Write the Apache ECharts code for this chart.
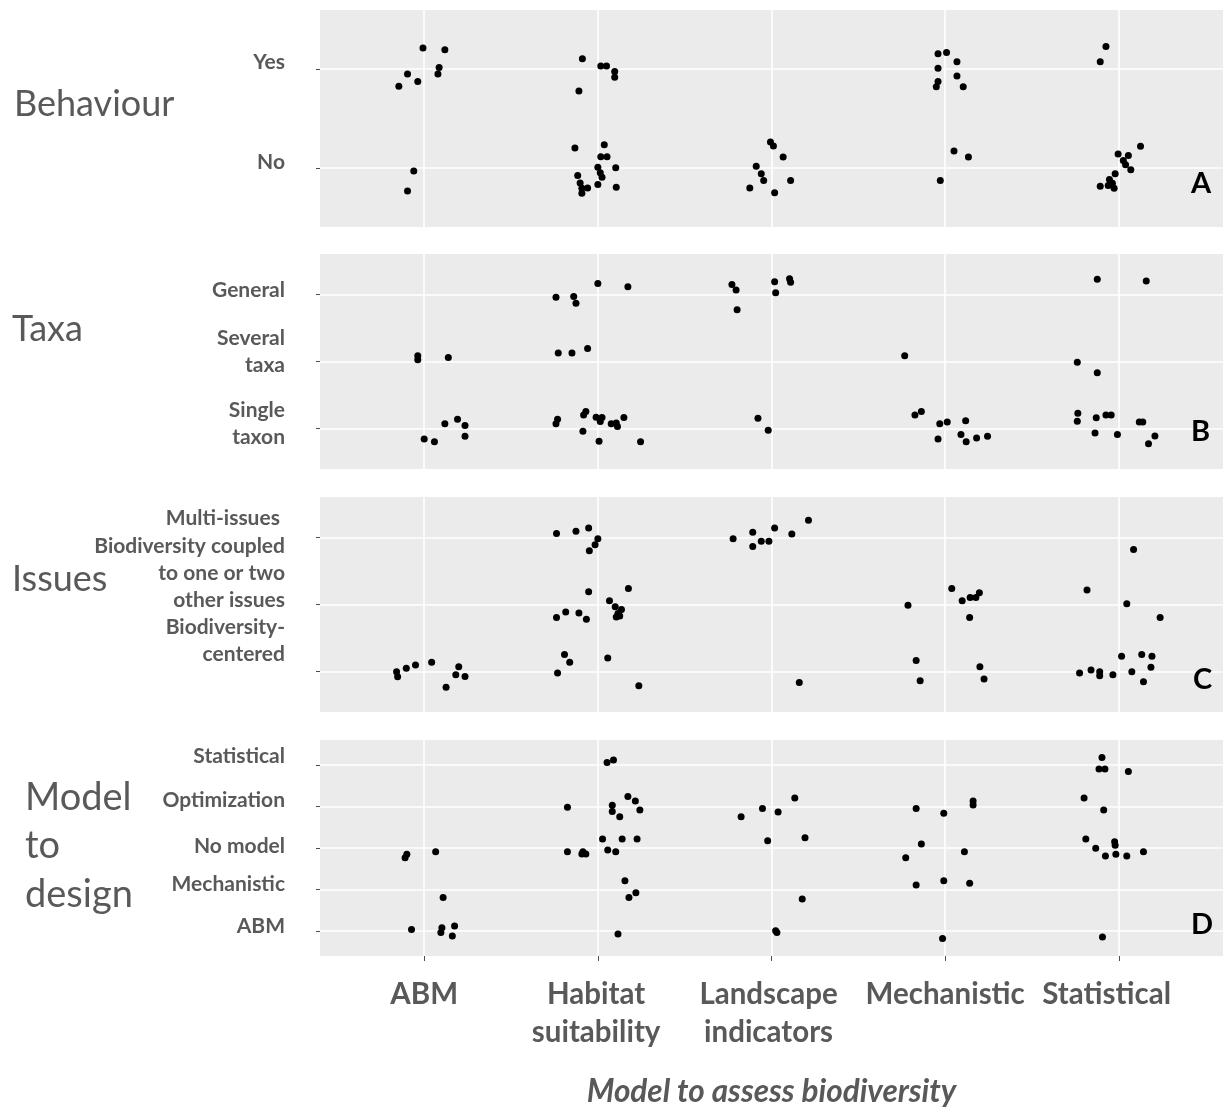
<!DOCTYPE html>
<html>
<head>
<meta charset="utf-8">
<style>html,body{margin:0;padding:0;background:#fff}#chart{width:1223px;height:1110px}</style>
<script src="https://cdn.jsdelivr.net/npm/echarts@6/dist/echarts.min.js"></script>
</head>
<body>
<div id="chart"></div>
<script>
// ---------- categories / tick labels ----------
const xCategories = ['ABM', 'Habitat\nsuitability', 'Landscape\nindicators', 'Mechanistic', 'Statistical'];
const behaviourLevels = ['No', 'Yes'];
const taxaLevels = ['Single\ntaxon', 'Several\ntaxa', 'General'];
const issuesLevels = ['Biodiversity-\ncentered', 'Biodiversity coupled\nto one or two\nother issues', 'Multi-issues '];
const designLevels = ['ABM', 'Mechanistic', 'No model', 'Optimization', 'Statistical'];
const panelTitles = ['Behaviour', 'Taxa', 'Issues', 'Model\nto\ndesign'];
const panelTags = ['A', 'B', 'C', 'D'];
const xAxisTitle = 'Model to assess biodiversity';

// ---------- jittered points [x (model to assess), y (level)] ----------
const behaviourPoints = [
  [0.993,2.214],[1.119,2.197],[1.086,2.017],[1.079,1.952],[0.904,1.952],[0.963,1.874],[0.854,1.827],
  [0.940,0.969],[0.904,0.765],
  [1.911,2.105],[2.017,2.031],[2.050,2.031],[2.097,1.976],[2.097,1.918],[1.891,1.779],
  [1.868,1.201],[2.037,1.235],[2.017,1.112],[2.053,1.112],[2.000,1.007],[2.103,1.000],[2.014,0.949],
  [2.024,0.905],[1.884,0.922],[1.898,0.847],[1.908,0.793],[1.908,0.741],[1.941,0.796],[2.000,0.830],[2.106,0.803],
  [2.994,1.262],[3.011,1.221],[3.067,1.109],[2.912,1.017],[2.941,0.939],[2.955,0.871],[3.110,0.871],[2.875,0.796],[3.018,0.748],
  [3.959,2.156],[4.008,2.170],[4.068,2.075],[3.959,2.010],[4.068,1.932],[3.959,1.874],[3.949,1.823],[4.104,1.823],
  [4.051,1.170],[4.134,1.109],[3.972,0.871],
  [4.926,2.231],[4.893,2.075],
  [5.125,1.218],[4.996,1.139],[5.055,1.126],[5.026,1.075],[5.039,1.031],[5.069,0.980],[4.979,0.939],
  [4.946,0.881],[4.963,0.844],[4.893,0.813],[4.939,0.820],[4.973,0.793]
];
const taxaPoints = [
  [0.963,2.086],[0.963,2.027],[1.139,2.061],
  [1.119,1.073],[1.192,1.142],[1.235,1.049],[1.235,0.888],[1.000,0.848],[1.059,0.804],
  [2.000,3.161],[2.173,3.112],[1.759,2.956],[1.861,2.966],[1.874,2.868],
  [1.772,2.125],[1.851,2.125],[1.941,2.193],
  [1.768,1.142],[1.759,1.073],[1.931,1.254],[1.918,1.205],[1.990,1.171],[2.024,1.166],[2.014,1.108],
  [2.077,1.073],[2.106,1.083],[2.113,1.034],[2.150,1.166],[1.914,0.961],[2.007,0.814],[2.246,0.804],
  [2.772,3.147],[2.796,3.064],[2.802,2.770],[3.018,3.186],[3.024,3.024],[3.104,3.230],[3.110,3.181],
  [2.922,1.156],[2.981,0.976],
  [3.767,2.086],
  [3.826,1.205],[3.863,1.254],[3.969,1.073],[4.012,1.098],[4.118,1.117],[3.959,0.848],[4.091,0.912],
  [4.121,0.804],[4.181,0.863],[4.244,0.888],
  [4.876,3.225],[5.158,3.200],
  [4.761,1.988],[4.876,1.831],
  [4.764,1.230],[4.761,1.112],[4.870,1.161],[4.926,1.205],[4.956,1.205],[5.118,1.098],[5.138,1.098],
  [4.863,0.936],[4.992,0.912],[5.171,0.775],[5.208,0.892]
];
const issuesPoints = [
  [0.841,1.000],[0.847,0.925],[0.897,1.050],[0.950,1.100],[1.043,1.140],[1.199,1.075],[1.182,0.955],[1.235,0.930],[1.126,0.770],
  [1.762,3.055],[1.874,3.090],[1.947,3.140],[2.000,2.980],[1.984,2.890],[1.951,2.800],
  [1.947,2.190],[2.176,2.240],[2.067,2.055],[2.100,1.965],[2.136,1.925],[2.116,1.865],[2.106,1.815],
  [2.126,1.830],[1.815,1.890],[1.891,1.875],[1.762,1.805],[1.934,1.780],
  [1.808,1.255],[1.838,1.140],[2.057,1.205],[1.768,0.980],[2.236,0.790],
  [2.779,2.980],[2.892,3.075],[2.892,2.865],[2.941,2.940],[2.985,2.940],[3.018,3.140],[3.117,3.050],[3.213,3.255],
  [3.160,0.840],
  [3.786,1.990],[4.038,2.240],[4.098,2.055],[4.144,2.105],[4.177,2.105],[4.197,2.175],[4.141,1.805],
  [3.833,1.165],[3.856,0.865],[4.200,1.075],[4.224,0.890],
  [5.085,2.820],
  [4.817,2.215],[5.046,2.010],[5.238,1.805],
  [4.774,0.980],[4.840,1.025],[4.890,1.000],[4.890,0.940],[4.966,0.955],[5.016,1.230],[5.075,1.000],
  [5.132,1.255],[5.191,1.230],[5.185,1.065],[5.142,0.850]
];
const designPoints = [
  [0.890,2.767],[0.900,2.847],[1.066,2.912],[1.109,1.811],
  [0.927,1.040],[1.102,1.080],[1.096,0.968],[1.175,1.120],[1.162,0.880],
  [2.053,5.056],[2.090,5.120],
  [1.825,3.980],[2.173,4.237],[2.216,4.133],[2.083,4.028],[2.083,3.876],[2.242,3.916],[2.126,3.755],
  [2.027,3.217],[2.140,3.217],[2.226,3.217],[1.825,2.912],[1.914,2.912],[1.931,2.855],[1.908,2.855],[2.057,2.952],[2.103,2.912],
  [2.156,2.213],[2.219,1.924],[2.179,1.811],
  [2.116,0.928],
  [3.134,4.205],[2.948,3.948],[3.038,3.867],[2.825,3.755],
  [2.978,3.177],[3.193,3.249],
  [3.177,1.771],
  [3.024,1.008],[3.031,0.968],
  [3.833,3.948],[3.992,3.835],[4.161,4.133],[4.161,4.036],
  [3.863,3.096],[3.773,2.767],[4.111,2.912],
  [3.833,2.108],[3.992,2.213],[4.141,2.149],
  [3.985,0.823],
  [4.903,5.177],[4.886,4.904],[4.920,4.904],[5.055,4.839],
  [4.800,4.205],[4.913,3.916],
  [4.810,3.217],[4.976,3.153],[4.979,3.064],[4.867,2.992],[4.923,2.807],[4.983,2.847],[5.046,2.807],[5.142,2.912],
  [4.906,0.855]
];

// ---------- layout / style ----------
const FONT = 'Lato';
const GRAY = '#595959';
const grids = [
  {top: 10, height: 217},
  {top: 254, height: 215},
  {top: 497, height: 215},
  {top: 740, height: 216}
];
// upward nudge of each y label (in category units), matches hand-placed labels
const yLabelLift = [
  [0.06, 0.07],
  [0.07, 0.14, 0.06],
  [0.455, 0.465, 0.285],
  [0.12, 0.12, 0.05, 0.15, 0.20]
];
const xLabelShift = [0, -0.01, -0.017, 0, -0.07];

const panels = [
  {levels: behaviourLevels, points: behaviourPoints},
  {levels: taxaLevels, points: taxaPoints},
  {levels: issuesLevels, points: issuesPoints},
  {levels: designLevels, points: designPoints}
];

const xTicks = xCategories.map((c, i) => i + 1);

const option = {
  animation: false,
  backgroundColor: '#ffffff',
  grid: grids.map(g => ({
    left: 320, width: 903, top: g.top, height: g.height,
    show: true, backgroundColor: '#EBEBEB', borderWidth: 0, containLabel: false
  })),
  xAxis: panels.map((p, i) => {
    const last = i === panels.length - 1;
    return {
      type: 'value', gridIndex: i, min: 0.4, max: 5.6,
      axisLine: {show: false},
      axisTick: {show: last, customValues: xTicks, length: 5, lineStyle: {color: '#4d4d4d', width: 1}},
      splitLine: {show: true, lineStyle: {color: '#ffffff', width: 1.6}},
      axisLabel: {
        show: last, hideOverlap: false,
        customValues: xTicks.map((v, k) => v + xLabelShift[k]),
        formatter: v => xCategories[Math.round(v) - 1],
        fontFamily: FONT, fontWeight: 'bold', fontSize: 29.5, color: GRAY,
        lineHeight: 38, margin: 19
      },
      name: last ? xAxisTitle : '',
      nameLocation: 'middle', nameGap: 120,
      nameTextStyle: {fontFamily: FONT, fontStyle: 'italic', fontWeight: 'bold', fontSize: 31.5, color: GRAY}
    };
  }),
  yAxis: panels.map((p, i) => {
    const ticks = p.levels.map((l, k) => k + 1);
    return {
      type: 'value', gridIndex: i, min: 0.4, max: p.levels.length + 0.6,
      axisLine: {show: false},
      axisTick: {show: true, customValues: ticks, length: 4, lineStyle: {color: '#4d4d4d', width: 1}},
      splitLine: {show: true, lineStyle: {color: '#ffffff', width: 1.6}},
      axisLabel: {
        hideOverlap: false,
        customValues: ticks.map((v, k) => v + yLabelLift[i][k]),
        formatter: v => p.levels[Math.floor(v + 1e-9) - 1],
        fontFamily: FONT, fontWeight: 'bold', fontSize: 21, color: GRAY,
        lineHeight: 27, margin: 35, align: 'right'
      }
    };
  }),
  series: panels.map((p, i) => ({
    type: 'scatter', xAxisIndex: i, yAxisIndex: i,
    data: p.points, symbol: 'circle', symbolSize: 7,
    itemStyle: {color: '#000000', opacity: 1}, silent: true
  })),
  graphic: [
    {type: 'text', z: 100, left: 14, top: 86, style: {text: panelTitles[0], font: '36px ' + FONT, fill: GRAY}},
    {type: 'text', z: 100, left: 12, top: 311, style: {text: panelTitles[1], font: '36px ' + FONT, fill: GRAY}},
    {type: 'text', z: 100, left: 12, top: 561, style: {text: panelTitles[2], font: '36px ' + FONT, fill: GRAY}},
    {type: 'text', z: 100, left: 25, top: 773, style: {text: panelTitles[3], font: '38px ' + FONT, fill: GRAY, lineHeight: 48.5}},
    {type: 'text', z: 100, left: 1191, top: 169, style: {text: panelTags[0], font: 'bold 29px ' + FONT, fill: '#000'}},
    {type: 'text', z: 100, left: 1191, top: 417, style: {text: panelTags[1], font: 'bold 29px ' + FONT, fill: '#000'}},
    {type: 'text', z: 100, left: 1193, top: 665, style: {text: panelTags[2], font: 'bold 29px ' + FONT, fill: '#000'}},
    {type: 'text', z: 100, left: 1191, top: 910, style: {text: panelTags[3], font: 'bold 29px ' + FONT, fill: '#000'}}
  ]
};

const chart = echarts.init(document.getElementById('chart'), null, {renderer: 'canvas'});
chart.setOption(option);
</script>
</body>
</html>
